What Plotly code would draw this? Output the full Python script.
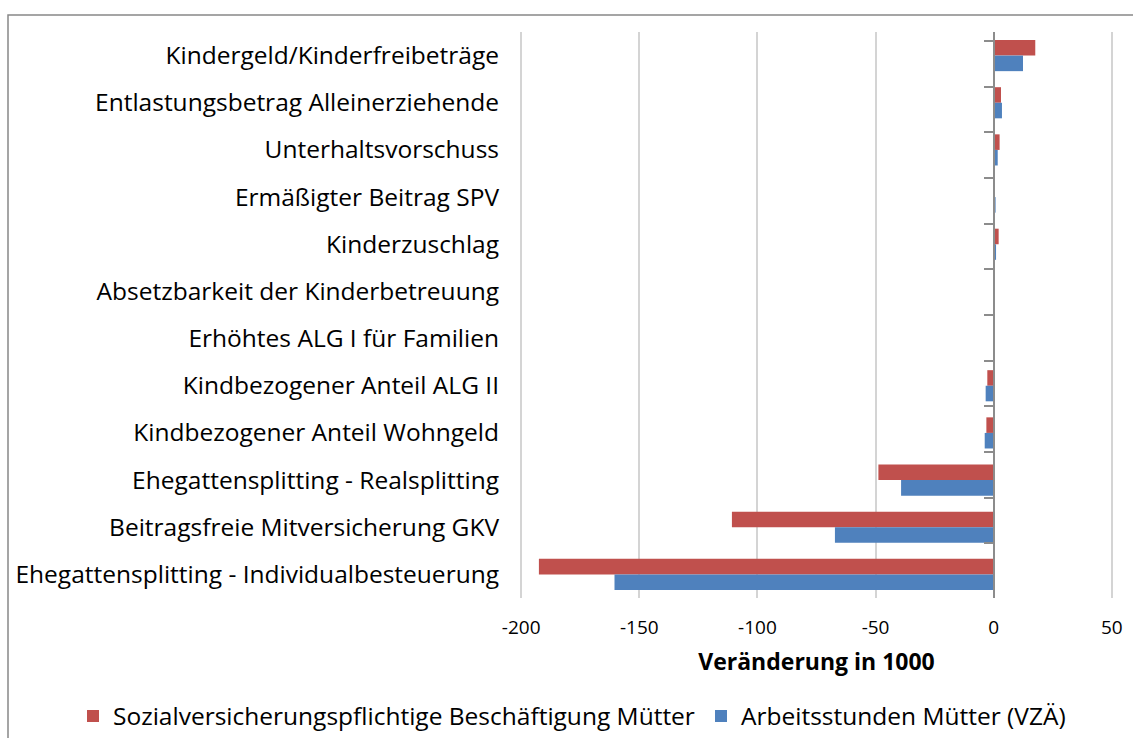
import plotly.graph_objects as go

categories = [
    "Kindergeld/Kinderfreibeträge",
    "Entlastungsbetrag Alleinerziehende",
    "Unterhaltsvorschuss",
    "Ermäßigter Beitrag SPV",
    "Kinderzuschlag",
    "Absetzbarkeit der Kinderbetreuung",
    "Erhöhtes ALG I für Familien",
    "Kindbezogener Anteil ALG II",
    "Kindbezogener Anteil Wohngeld",
    "Ehegattensplitting - Realsplitting",
    "Beitragsfreie Mitversicherung GKV",
    "Ehegattensplitting - Individualbesteuerung",
]
beschaeftigung = [17.6, 3.1, 2.5, 0.3, 2.1, 0.4, 0.4, -2.7, -3.1, -48.8, -110.8, -192.5]
arbeitsstunden = [12.4, 3.5, 1.7, 0.8, 1.0, 0.3, 0.1, -3.4, -3.8, -39.2, -67.2, -160.5]
series_names = ["Sozialversicherungspflichtige Beschäftigung Mütter", "Arbeitsstunden Mütter (VZÄ)"]
x_ticks = [-200, -150, -100, -50, 0, 50]
x_ticktext = [str(v) for v in x_ticks]

FONT = "Open Sans"
RED = "#C0504D"
BLUE = "#4F81BD"

fig = go.Figure()
fig.add_trace(go.Bar(y=categories, x=beschaeftigung, orientation="h", name=series_names[0],
                     marker=dict(color=RED, line=dict(width=0)), legend="legend"))
fig.add_trace(go.Bar(y=categories, x=arbeitsstunden, orientation="h", name=series_names[1],
                     marker=dict(color=BLUE, line=dict(width=0)), legend="legend2"))
# helper trace for the category axis drawn at x = 0
fig.add_trace(go.Scatter(y=categories, x=[0] * len(categories), yaxis="y2", mode="markers",
                         marker=dict(opacity=0), showlegend=False, hoverinfo="skip"))

L, R, T, B = 520, 20, 32, 140
W, H = 1133, 738
pw, ph = W - L - R, H - T - B
XR = [-200.5, 50.5]

def px_to_paper_x(px):
    return (px - L) / pw

def px_to_paper_y(py):
    return (H - B - py) / ph

def val_to_paper_x(v):
    return (v - XR[0]) / (XR[1] - XR[0])

legend_common = dict(orientation="h", xref="container", yref="container", xanchor="left",
                     yanchor="middle", y=(H - 716) / H, font=dict(size=24.5, family=FONT),
                     itemwidth=30, bgcolor="rgba(0,0,0,0)")

fig.update_layout(
    width=W, height=H,
    margin=dict(l=L, r=R, t=T, b=B, pad=0, autoexpand=False),
    paper_bgcolor="white", plot_bgcolor="white",
    font=dict(family=FONT, color="#000000"),
    barmode="group", bargap=0.34, bargroupgap=0,
    xaxis=dict(range=XR, tickvals=x_ticks, ticktext=x_ticktext, showgrid=True,
               gridcolor="#D4D4D4", gridwidth=1.5, automargin=False,
               zeroline=False, showline=False, ticks="", tickfont=dict(size=19, family=FONT),
               ticklabelstandoff=16,
               title=dict(text="<b>Veränderung in 1000</b>", font=dict(size=23, family=FONT), standoff=14)),
    yaxis=dict(categoryorder="array", categoryarray=categories, autorange="reversed",
               showgrid=False, zeroline=False, showline=False, ticks="", automargin=False,
               tickfont=dict(size=24.5, family=FONT), ticklabelstandoff=20),
    yaxis2=dict(overlaying="y", anchor="free", position=val_to_paper_x(0),
                categoryorder="array", categoryarray=categories, autorange="reversed",
                showgrid=False, zeroline=False, showline=True, linecolor="#8C8C8C", linewidth=2,
                ticks="outside", ticklen=9, tickwidth=2, tickcolor="#8C8C8C", tickson="boundaries",
                showticklabels=False, side="left", automargin=False),
    legend=dict(legend_common, x=73 / W),
    legend2=dict(legend_common, x=701 / W),
    shapes=[dict(type="rect", xref="paper", yref="paper",
                 x0=px_to_paper_x(8), x1=px_to_paper_x(1200),
                 y0=px_to_paper_y(800), y1=px_to_paper_y(15),
                 line=dict(color="#888888", width=1.5), fillcolor="rgba(0,0,0,0)", layer="below")],
)

fig.write_html("out.html", config={"displayModeBar": False},
               post_script="document.body.style.margin='0px';document.body.style.overflow='hidden';")
